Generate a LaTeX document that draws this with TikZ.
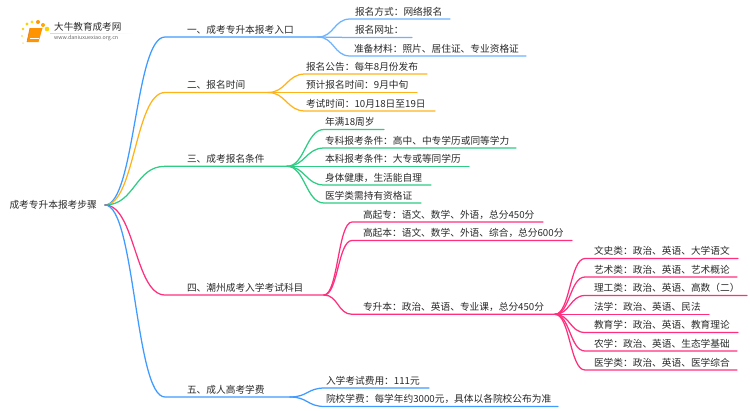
\documentclass[tikz,border=0pt]{standalone}
\usepackage{fontspec}
\setmainfont{Noto Sans CJK SC}
\definecolor{cblue}{HTML}{3F9BFF}
\definecolor{cblueL}{HTML}{6DB3FF}
\definecolor{corange}{HTML}{FFB31A}
\definecolor{cgreen}{HTML}{2ECC85}
\definecolor{cpink}{HTML}{FF2F7E}
\definecolor{ctext}{HTML}{2B2B2B}
\tikzset{
  topic/.style={anchor=south west,inner xsep=0pt,inner ysep=1.5pt,text height=9.5pt,text depth=2.5pt,
    font=\fontsize{9.7}{11}\selectfont,text=ctext,align=left,outer sep=0pt},
  wire/.style={line width=1.25pt,line cap=round}
}
% name, line start x, line end x, line y, text start x, text
\newcommand{\nd}[6]{%
  \pgfmathsetmacro{\ndW}{#3-#2}\pgfmathsetmacro{\ndI}{#5-#2}%
  \node[topic,text width=\ndW pt] (#1) at (#2,#4) {\hspace*{\ndI pt}#6};}
% colour, parent, child, control distance
\newcommand{\lnk}[4]{%
  \draw[wire,#1] (#2.south east) .. controls +(#4,0) and +(-#4,0) .. (#3.south west) -- (#3.south east);}
\begin{document}
\begin{tikzpicture}[x=1pt,y=-1pt]
\useasboundingbox (0,0) rectangle (750,410);
\fill[white] (0,0) rectangle (750,410);
% logo
\foreach \a/\b/\r/\c in {23/43/1/yellow!60!orange!40,22/36/1.1/yellow!70!orange!60,23/29/1.4/yellow!70!orange,27/24/1.6/yellow!70!orange,32/22/1.7/yellow!80!orange,38/22/2/orange!80!yellow,43/25/2/orange!70!yellow,47/29/2.3/yellow!70!orange}
  {\fill[\c] (\a,\b) circle (\r);}
\fill[orange!85!yellow] (30,28) -- (42.5,28) -- (38.5,42) -- (27,42) -- cycle;
\draw[white,line width=.5pt] (30,38.5) -- (39,38.5);
\draw[orange!50!brown,line width=.6pt] (30,28) -- (27,42);
\shade[left color=black!15,right color=white,draw=none] (50,33) rectangle (133,33.5);
\node[anchor=west,inner sep=0pt,font=\fontsize{9.6}{11}\selectfont,text=ctext] (logoA) at (54,27) {大牛教育成考网};
\node[anchor=west,inner sep=0pt,font=\fontsize{5.3}{6}\selectfont,text=black!60] (logoB) at (54,38.5) {www.daniuxuexiao.org.cn};
% root
\node[anchor=east,inner xsep=0pt,inner ysep=2pt,font=\fontsize{9.7}{11}\selectfont,text=ctext] (root) at (97,205) {成考专升本报考步骤};
\coordinate (rootx) at (105,205);
% main branches
\nd{a}{165}{318}{37}{187}{一、成考专升本报考入口}
\nd{b}{165}{268}{92.5}{187}{二、报名时间}
\nd{c}{165}{287}{166.3}{187}{三、成考报名条件}
\nd{d}{165}{324}{295}{187}{四、潮州成考入学考试科目}
\nd{e}{165}{290}{397}{187}{五、成人高考学费}
\foreach \n/\col in {a/cblue,b/corange,c/cgreen,d/cpink,e/cblue}
  {\draw[wire,\col] (rootx) .. controls +(30,0) and +(-30,0) .. (\n.south west) -- (\n.south east);}
% group a
\nd{a1}{350}{450}{19}{355}{报名方式：网络报名}
\nd{a2}{350}{412}{37.5}{355}{报名网址：}
\nd{a3}{350}{526}{56}{354}{准备材料：照片、居住证、专业资格证}
\foreach \n in {a1,a2,a3} {\lnk{cblueL}{a}{\n}{16}}
% group b
\nd{b1}{305}{427}{74}{306}{报名公告：每年8月份发布}
\nd{b2}{305}{417}{92.5}{306}{预计报名时间：9月中旬}
\nd{b3}{305}{435}{111}{306}{考试时间：10月18日至19日}
\foreach \n in {b1,b2,b3} {\lnk{corange}{b}{\n}{18}}
% group c
\nd{c1}{324}{384}{129.5}{325}{年满18周岁}
\nd{c2}{324}{516}{148}{325}{专科报考条件：高中、中专学历或同等学力}
\nd{c3}{324}{469}{166.3}{325}{本科报考条件：大专或等同学历}
\nd{c4}{324}{431}{185}{325}{身体健康，生活能自理}
\nd{c5}{324}{421}{203}{325}{医学类需持有资格证}
\foreach \n in {c1,c2,c3,c4,c5} {\lnk{cgreen}{c}{\n}{18}}
% group d
\nd{d1}{352}{543}{222}{363}{高起专：语文、数学、外语，总分450分}
\nd{d2}{352}{572}{240.5}{363}{高起本：语文、数学、外语、综合，总分600分}
\nd{d3}{352}{555}{314.3}{363}{专升本：政治、英语、专业课，总分450分}
\foreach \n in {d1,d2,d3} {\lnk{cpink}{d}{\n}{14}}
% group d3
\nd{s1}{585}{738}{258.5}{594}{文史类：政治、英语、大学语文}
\nd{s2}{585}{737}{277}{594}{艺术类：政治、英语、艺术概论}
\nd{s3}{585}{747}{295.5}{594}{理工类：政治、英语、高数（二）}
\nd{s4}{585}{709}{314.3}{594}{法学：政治、英语、民法}
\nd{s5}{585}{738}{332.5}{594}{教育学：政治、英语、教育理论}
\nd{s6}{585}{737}{351}{594}{农学：政治、英语、生态学基础}
\nd{s7}{585}{737}{370}{594}{医学类：政治、英语、医学综合}
\foreach \n in {s1,s2,s3,s4,s5,s6,s7} {\lnk{cpink}{d3}{\n}{15}}
% group e
\nd{e1}{325}{429}{388}{326}{入学考试费用：111元}
\nd{e2}{325}{558}{406.5}{326}{院校学费：每学年约3000元，具体以各院校公布为准}
\foreach \n in {e1,e2} {\lnk{cblue}{e}{\n}{18}}
\end{tikzpicture}
\end{document}
